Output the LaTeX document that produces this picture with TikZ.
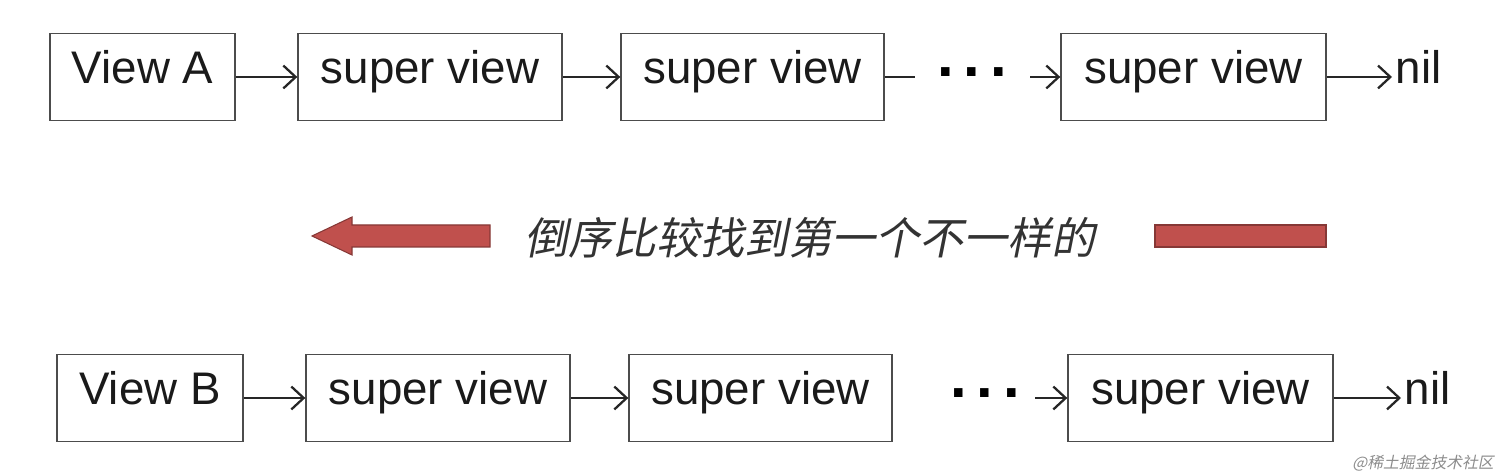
\documentclass[tikz,border=0pt]{standalone}
\usepackage{fontspec}
\setmainfont{Liberation Sans}
\newfontfamily\cjk[FakeSlant=0.2]{Noto Sans CJK SC}
\usetikzlibrary{positioning,arrows.meta}
\definecolor{barred}{HTML}{C0504D}
\definecolor{txtgray}{HTML}{1A1A1A}
\tikzset{
  box/.style={draw=black!70, thick, minimum height=1.74cm, text=txtgray,
    font=\fontsize{26}{30}\selectfont, inner sep=0pt, text height=0.72em, text depth=0pt},
  endtxt/.style={font=\fontsize{26}{30}\selectfont, text=txtgray, text height=0.72em,
    text depth=0pt, anchor=west, inner sep=2pt},
  link/.style={-{Straight Barb[length=7pt,width=13pt]}, line width=1.3pt, black!85},
  dots/.style={font=\fontsize{34}{34}\selectfont\bfseries, inner sep=0pt}
}
\begin{document}
\begin{tikzpicture}[x=0.02cm,y=-0.02cm]
  \useasboundingbox (0,0) rectangle (1512,475);
  % top chain
  \node[box, minimum width=3.7cm] (va) at (142.5,77) {View A};
  \node[box, minimum width=5.28cm] (a1) at (430,77) {super view};
  \node[box, minimum width=5.26cm] (a2) at (752.5,77) {super view};
  \node[box, minimum width=5.3cm] (a3) at (1193.5,77) {super view};
  \node[dots] (ad) at (972,72) {.\,.\,.};
  \node[endtxt] (an) at (1392,77) {nil};
  \coordinate (ae) at (915,77);
  \coordinate (as) at (1030,77);
  \draw[link] (va) -- (a1);
  \draw[link] (a1) -- (a2);
  \draw[line width=1.3pt, black!85] (a2) -- (ae);
  \draw[link] (as) -- (a3);
  \draw[link] (a3) -- (an);
  % middle
  \node[font=\fontsize{25}{28}\selectfont\cjk, text=black!80] (msg) at (810,238) {倒序比较找到第一个不一样的};
  \draw[draw=barred!70!black, fill=barred, line width=0.6pt]
    (490,225) -- (352,225) -- (352,217) -- (312,236) -- (352,255) -- (352,247) -- (490,247) -- cycle;
  \draw[draw=barred!70!black, fill=barred, line width=0.6pt] (1155,225) rectangle (1326,247);
  % bottom chain
  \node[box, minimum width=3.72cm] (vb) at (150,398) {View B};
  \node[box, minimum width=5.28cm] (b1) at (438,398) {super view};
  \node[box, minimum width=5.26cm] (b2) at (760.5,398) {super view};
  \node[box, minimum width=5.3cm] (b3) at (1200.5,398) {super view};
  \node[dots] (bd) at (985,393) {.\,.\,.};
  \node[endtxt] (bn) at (1401,398) {nil};
  \coordinate (bs) at (1035,398);
  \draw[link] (vb) -- (b1);
  \draw[link] (b1) -- (b2);
  \draw[link] (bs) -- (b3);
  \draw[link] (b3) -- (bn);
  % watermark
  \node[font=\fontsize{9}{10}\selectfont\cjk, text=black!45, anchor=east] (wm) at (1500,463) {@稀土掘金技术社区};
\end{tikzpicture}
\end{document}
